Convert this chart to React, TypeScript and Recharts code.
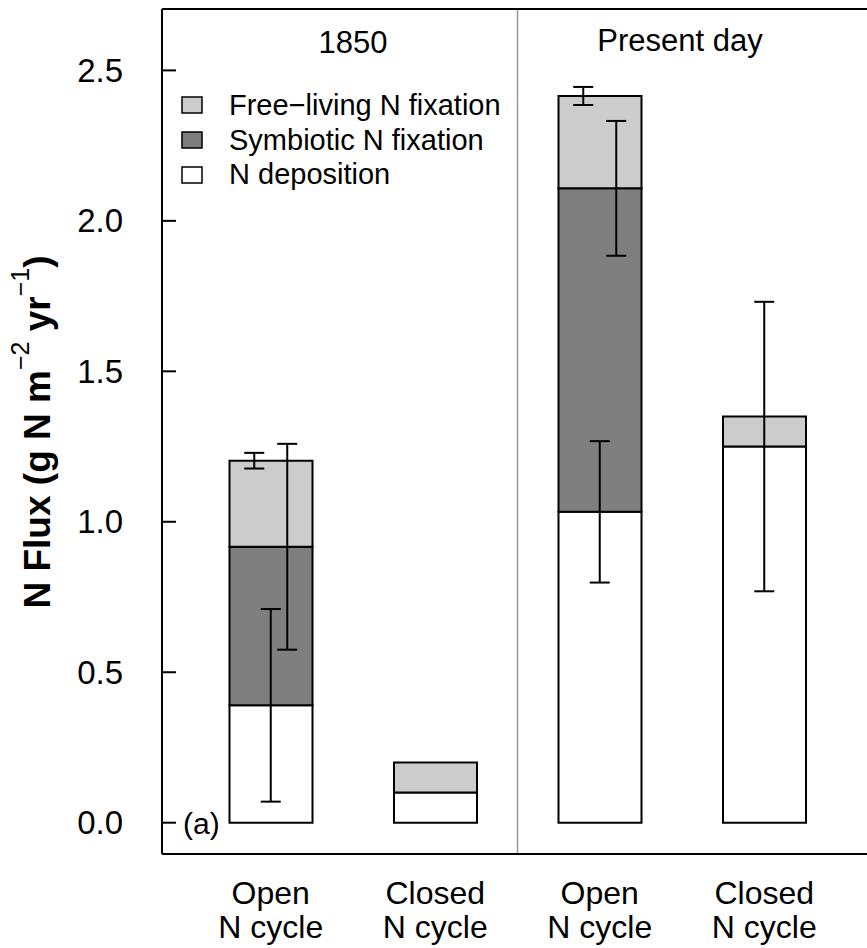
import React from 'react';
import {
  ComposedChart,
  Bar,
  Line,
  XAxis,
  YAxis,
  ErrorBar,
  ReferenceLine,
  Customized,
} from 'recharts';

const categories = ['o1850', 'c1850', 'oPD', 'cPD'];
const categoryTop = ['Open', 'Closed', 'Open', 'Closed'];
const categoryBottom = ['N cycle', 'N cycle', 'N cycle', 'N cycle'];

const deposition = [0.39, 0.1, 1.033, 1.25];
const symbiotic = [0.527, 0, 1.075, 0];
const freeLiving = [0.286, 0.1, 0.307, 0.1];

const depositionErr = [0.32, 0, 0.235, 0.481];
const symbioticErr = [0.342, 0, 0.224, 0];
const freeLivingErr = [0.026, 0, 0.03, 0];

const yTicks = [0, 0.5, 1, 1.5, 2, 2.5];
const yDomain = [-0.104, 2.704];
const panelTitles = ['1850', 'Present day'];
const legendLabels = ['Free\u2212living N fixation', 'Symbiotic N fixation', 'N deposition'];
const legendFills = ['#cccccc', '#7f7f7f', '#ffffff'];

const FONT = '"Liberation Sans", Arial, Helvetica, sans-serif';

const data = categories.map((id, i) => ({
  id,
  dep: deposition[i],
  sym: symbiotic[i],
  free: freeLiving[i],
  depTop: deposition[i],
  symTop: deposition[i] + symbiotic[i],
  freeTop: deposition[i] + symbiotic[i] + freeLiving[i],
  depErr: depositionErr[i],
  symErr: symbioticErr[i],
  freeErr: freeLivingErr[i],
}));

const YTick = (props: any) => {
  const { x, y, payload } = props;
  return (
    <g>
      <line x1={x} x2={x + 14} y1={y} y2={y} stroke="#000" strokeWidth={2} />
      <text x={x - 39} y={y} dy={11.5} textAnchor="end" fontSize={33} fill="#000" fontFamily={FONT}>
        {Number(payload.value).toFixed(1)}
      </text>
    </g>
  );
};

const XTick = (props: any) => {
  const { x, y, payload } = props;
  const i = categories.indexOf(payload.value);
  return (
    <g>
      <text x={x} y={y + 50} textAnchor="middle" fontSize={32} fill="#000" fontFamily={FONT}>
        {categoryTop[i]}
      </text>
      <text x={x} y={y + 84} textAnchor="middle" fontSize={32} fill="#000" fontFamily={FONT}>
        {categoryBottom[i]}
      </text>
    </g>
  );
};

const Annotations = () => (
  <g fontFamily={FONT} fill="#000">
    <text x={353} y={53} textAnchor="middle" fontSize={31}>
      {panelTitles[0]}
    </text>
    <text x={680} y={51} textAnchor="middle" fontSize={31}>
      {panelTitles[1]}
    </text>
    {legendLabels.map((lab, i) => (
      <g key={lab}>
        <rect x={182} y={97 + i * 35} width={20} height={16} fill={legendFills[i]} stroke="#000" strokeWidth={1.5} />
        <text x={229} y={115 + i * 34.5} fontSize={29}>
          {lab}
        </text>
      </g>
    ))}
    <text x={183} y={834} fontSize={30}>
      (a)
    </text>
    <text
      transform="translate(50, 432) rotate(-90)"
      textAnchor="middle"
      fontSize={37}
      fontWeight="bold"
    >
      {'N Flux (g N m'}
      <tspan fontSize={25} fontWeight="normal" dy={-21}>
        {'\u22122'}
      </tspan>
      <tspan dy={21}>{' yr'}</tspan>
      <tspan fontSize={25} fontWeight="normal" dy={-21}>
        {'\u22121'}
      </tspan>
      <tspan dy={21}>{')'}</tspan>
    </text>
  </g>
);

export default function App() {
  return (
    <div
      style={{
        position: 'absolute',
        left: 0,
        top: 0,
        width: 867,
        height: 948,
        overflow: 'hidden',
        background: '#fff',
        fontFamily: FONT,
      }}
    >
      <ComposedChart width={900} height={948} data={data} margin={{ top: 9, right: 27, bottom: 0, left: 0 }}>
        <XAxis
          dataKey="id"
          height={94}
          tickSize={0}
          tickMargin={0}
          tickLine={false}
          axisLine={{ stroke: '#000', strokeWidth: 2 }}
          tick={<XTick />}
          interval={0}
          padding={{ left: 26.5, right: 26.5 }}
        />
        <XAxis xAxisId="fl" dataKey="id" hide padding={{ left: 10, right: 43 }} />
        <XAxis xAxisId="sy" dataKey="id" hide padding={{ left: 43, right: 10 }} />
        <YAxis
          type="number"
          domain={yDomain}
          allowDataOverflow
          ticks={yTicks}
          interval={0}
          width={162}
          tickSize={0}
          tickMargin={0}
          tickLine={false}
          axisLine={{ stroke: '#000', strokeWidth: 2 }}
          tick={<YTick />}
        />
        <ReferenceLine x="c1850" position="end" stroke="#999" strokeWidth={1.5} />
        <ReferenceLine y={yDomain[1]} stroke="#000" strokeWidth={2} ifOverflow="visible" />
        <Bar dataKey="dep" stackId="a" fill="#ffffff" stroke="#000" strokeWidth={2} barSize={83} isAnimationActive={false} />
        <Bar dataKey="sym" stackId="a" fill="#7f7f7f" stroke="#000" strokeWidth={2} barSize={83} isAnimationActive={false} />
        <Bar dataKey="free" stackId="a" fill="#cccccc" stroke="#000" strokeWidth={2} barSize={83} isAnimationActive={false} />
        <Line dataKey="depTop" stroke="none" dot={false} activeDot={false} legendType="none" isAnimationActive={false}>
          <ErrorBar dataKey="depErr" width={10} stroke="#000" strokeWidth={2} direction="y" />
        </Line>
        <Line xAxisId="sy" dataKey="symTop" stroke="none" dot={false} activeDot={false} legendType="none" isAnimationActive={false}>
          <ErrorBar dataKey="symErr" width={10} stroke="#000" strokeWidth={2} direction="y" />
        </Line>
        <Line xAxisId="fl" dataKey="freeTop" stroke="none" dot={false} activeDot={false} legendType="none" isAnimationActive={false}>
          <ErrorBar dataKey="freeErr" width={10} stroke="#000" strokeWidth={2} direction="y" />
        </Line>
        <Customized component={Annotations} />
      </ComposedChart>
    </div>
  );
}
